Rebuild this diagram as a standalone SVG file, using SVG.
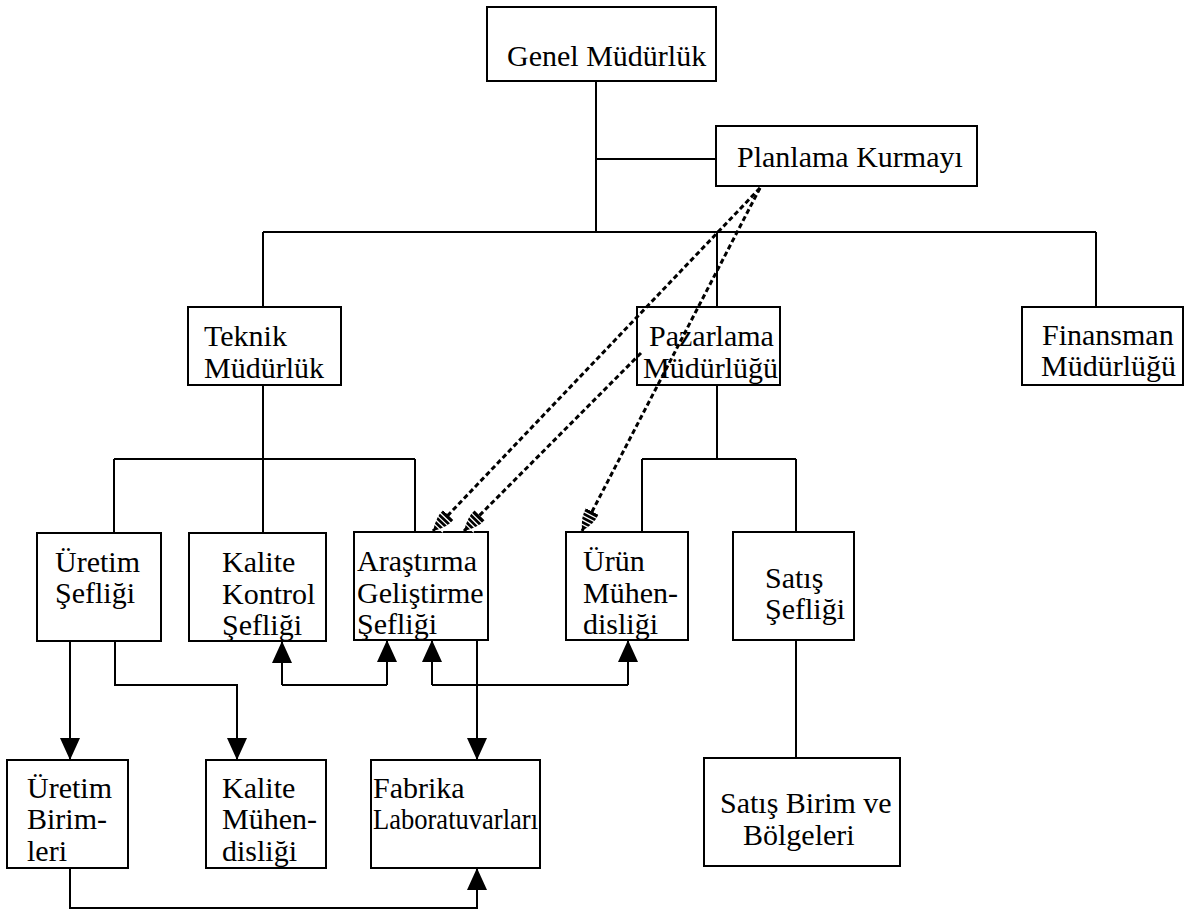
<svg xmlns="http://www.w3.org/2000/svg" width="1199" height="914" viewBox="0 0 1199 914">
  <style>
    .box { fill: #fff; stroke: #000; stroke-width: 2; }
    .t { font-family: "Liberation Serif", "Times New Roman", serif; font-size: 30px; fill: #000; }
    .ln { fill: none; stroke: #000; stroke-width: 2; }
    .arr { marker-end: url(#solid); }
    .dash { fill: none; stroke: #000; stroke-width: 3; stroke-dasharray: 5 3; marker-end: url(#hatch); }
  </style>
  <defs>
    <marker id="solid" viewBox="0 0 22 20" refX="22" refY="10" markerWidth="22" markerHeight="20" markerUnits="userSpaceOnUse" orient="auto">
      <path d="M0,0 L22,10 L0,20 Z" fill="#000"/>
    </marker>
    <marker id="hatch" viewBox="0 0 22 16" refX="22" refY="8" markerWidth="22" markerHeight="16" markerUnits="userSpaceOnUse" orient="auto">
      <path d="M0,1 Q9,0 22,8 Q9,16 0,15 Z" fill="#000"/>
      <path d="M4,0 V16 M8,0 V16 M12,0 V16 M16,0 V16" stroke="#fff" stroke-width="1.3"/>
    </marker>
  </defs>

  <rect width="1199" height="914" fill="#fff"/>

  <g id="genel-mudurluk">
    <rect class="box" x="487" y="7" width="229" height="74"/>
    <text class="t" x="507" y="66">Genel Müdürlük</text>
  </g>
  <g id="planlama-kurmayi">
    <rect class="box" x="716" y="126" width="261" height="60"/>
    <text class="t" x="737" y="167">Planlama Kurmayı</text>
  </g>
  <g id="teknik-mudurluk">
    <rect class="box" x="188" y="307" width="153" height="78"/>
    <text class="t" x="204" y="346">Teknik</text>
    <text class="t" x="204" y="378">Müdürlük</text>
  </g>
  <g id="pazarlama-mudurlugu">
    <rect class="box" x="637" y="307" width="143" height="78"/>
    <text class="t" x="649" y="346">Pazarlama</text>
    <text class="t" x="643" y="378">Müdürlüğü</text>
  </g>
  <g id="finansman-mudurlugu">
    <rect class="box" x="1022" y="307" width="161" height="78"/>
    <text class="t" x="1042" y="345">Finansman</text>
    <text class="t" x="1041" y="376">Müdürlüğü</text>
  </g>
  <g id="uretim-sefligi">
    <rect class="box" x="37" y="533" width="124" height="108"/>
    <text class="t" x="55" y="572">Üretim</text>
    <text class="t" x="55" y="603">Şefliği</text>
  </g>
  <g id="kalite-kontrol-sefligi">
    <rect class="box" x="189" y="533" width="137" height="108"/>
    <text class="t" x="222" y="572">Kalite</text>
    <text class="t" x="222" y="604">Kontrol</text>
    <text class="t" x="222" y="635">Şefliği</text>
  </g>
  <g id="arastirma-gelistirme-sefligi">
    <rect class="box" x="354" y="532" width="134" height="108"/>
    <text class="t" x="357" y="571">Araştırma</text>
    <text class="t" x="357" y="603">Geliştirme</text>
    <text class="t" x="357" y="634">Şefliği</text>
  </g>
  <g id="urun-muhendisligi">
    <rect class="box" x="566" y="532" width="122" height="108"/>
    <text class="t" x="583" y="571">Ürün</text>
    <text class="t" x="583" y="603">Mühen-</text>
    <text class="t" x="583" y="634">disliği</text>
  </g>
  <g id="satis-sefligi">
    <rect class="box" x="733" y="532" width="121" height="108"/>
    <text class="t" x="765" y="588">Satış</text>
    <text class="t" x="765" y="619">Şefliği</text>
  </g>
  <g id="uretim-birimleri">
    <rect class="box" x="7" y="760" width="121" height="108"/>
    <text class="t" x="27" y="798">Üretim</text>
    <text class="t" x="27" y="829">Birim-</text>
    <text class="t" x="27" y="861">leri</text>
  </g>
  <g id="kalite-muhendisligi">
    <rect class="box" x="206" y="760" width="120" height="108"/>
    <text class="t" x="222" y="798">Kalite</text>
    <text class="t" x="222" y="829">Mühen-</text>
    <text class="t" x="222" y="861">disliği</text>
  </g>
  <g id="fabrika-laboratuvarlari">
    <rect class="box" x="371" y="760" width="169" height="108"/>
    <text class="t" x="373" y="798">Fabrika</text>
    <text class="t" x="373" y="829" textLength="165" lengthAdjust="spacingAndGlyphs">Laboratuvarları</text>
  </g>
  <g id="satis-birim-ve-bolgeleri">
    <rect class="box" x="704" y="758" width="196" height="108"/>
    <text class="t" x="720" y="813">Satış Birim ve</text>
    <text class="t" x="743" y="845">Bölgeleri</text>
  </g>

  <g id="connectors">
    <!-- line structure -->
    <path class="ln" d="M596,81 V232 M596,159 H716 M263,232 H1096 M263,232 V307 M717,232 V307 M1096,232 V307"/>
    <path class="ln" d="M263,385 V533 M114,459 H415 M114,459 V533 M415,459 V532"/>
    <path class="ln" d="M717,385 V459 M642,459 H796 M642,459 V532 M796,459 V532 M796,640 V758"/>
    <!-- one-way arrows -->
    <path class="ln arr" d="M70,641 V760"/>
    <path class="ln arr" d="M115,641 V685 H237 V760"/>
    <path class="ln arr" d="M477,640 V760"/>
    <path class="ln arr" d="M70,868 V908 H477 V868"/>
    <!-- two-way links -->
    <path class="ln" d="M282,685 H387 M432,685 H628"/>
    <path class="ln arr" d="M282,685 V641"/>
    <path class="ln arr" d="M387,685 V640"/>
    <path class="ln arr" d="M432,685 V640"/>
    <path class="ln arr" d="M628,685 V640"/>
    <!-- staff links from planning -->
    <path class="dash" d="M760,188 L433,531"/>
    <path class="dash" d="M641,353 L464,531"/>
    <path class="dash" d="M760,188 L582,531"/>
  </g>
</svg>
